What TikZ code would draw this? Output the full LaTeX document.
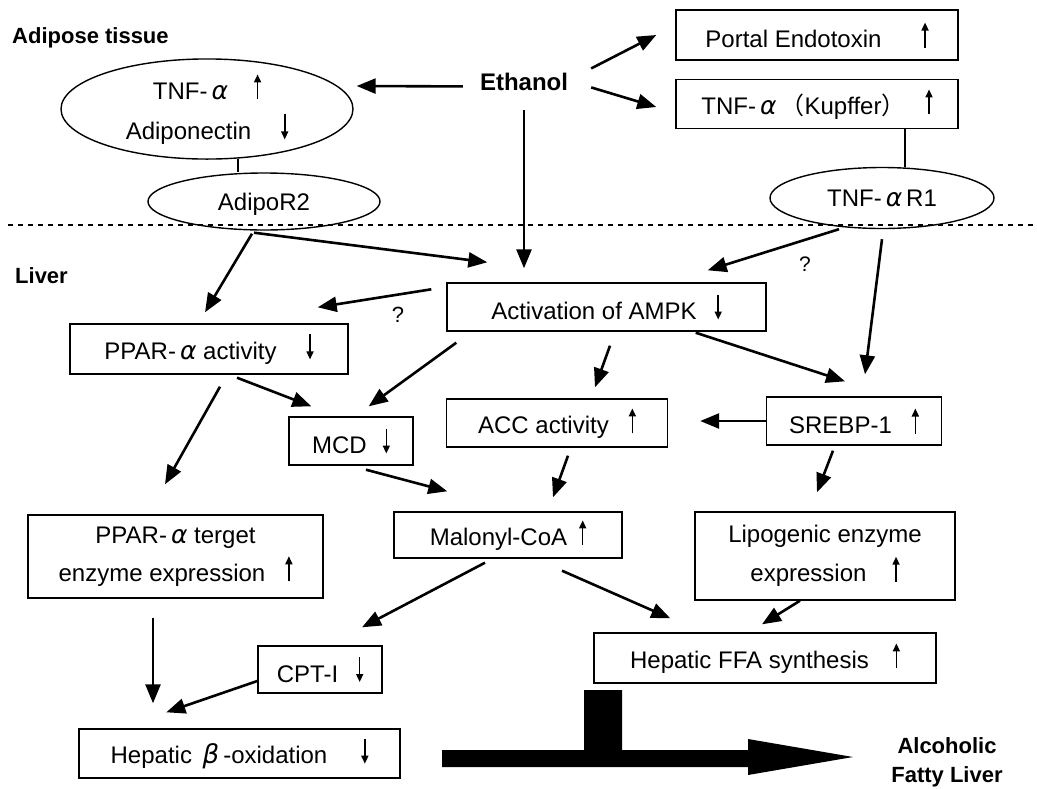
\documentclass[tikz,border=0pt]{standalone}
\usepackage{fontspec}
\setmainfont{Liberation Sans}
\newfontfamily\cjk{Noto Sans CJK JP}
\newfontfamily\grk{DejaVu Sans}
\usetikzlibrary{arrows.meta,shapes.geometric,calc}
\newcommand{\upar}{\tikz[baseline=0pt,x=1pt,y=1pt]\draw[line width=1.6pt,-{Triangle[length=8pt,width=7pt]}] (0,0) -- (0,25);}
\newcommand{\dnar}{\tikz[baseline=0pt,x=1pt,y=1pt]\draw[line width=1.6pt,-{Triangle[length=8pt,width=7pt]}] (0,25) -- (0,0);}
\newcommand{\alp}{{\grk\itshape\fontsize{25}{28}\selectfont α}}
\newcommand{\bet}{{\grk\itshape\fontsize{26}{28}\selectfont β}}
\begin{document}
\begin{tikzpicture}[x=1pt,y=-1pt,
  every node/.style={font=\fontsize{24}{28}\selectfont, inner sep=0pt},
  box/.style={draw, line width=1.4pt, rectangle, align=center},
  ell/.style={draw, line width=1.4pt, ellipse, align=center},
  arr/.style={line width=2.6pt, -{Triangle[length=19pt,width=15pt]}},
  lbl/.style={font=\fontsize{22}{29}\selectfont\bfseries},
  conn/.style={line width=1.6pt}]
\useasboundingbox (0,0) rectangle (1037,788);
\fill[white] (0,0) rectangle (1037,788);

% free labels
\node[lbl, anchor=base west] (adt) at (12,43) {Adipose tissue};
\node[lbl, anchor=base west] (liv) at (15,283) {Liver};
\node[font=\fontsize{24}{28}\selectfont\bfseries, anchor=base] (eth) at (524,90) {Ethanol};
\node[font=\fontsize{22}{24}\selectfont, anchor=base] (q1) at (398,322) {?};
\node[font=\fontsize{21}{24}\selectfont, anchor=base] (q2) at (805,271) {?};
\node[lbl, align=center] (afl) at (947,762) {Alcoholic\\Fatty Liver};

% dotted boundary
\draw[line width=2.4pt, dash pattern=on 5pt off 5pt] (8,225) -- (1037,225);

% ellipses
\node[ell, minimum width=292pt, minimum height=94pt, font=\fontsize{24}{40}\selectfont] (e1) at (207,109)
  {TNF-\,\alp\hspace{26pt}\upar\\Adiponectin\hspace{30pt}\dnar};
\node[ell, minimum width=232pt, minimum height=57pt, text depth=0pt] (adipo) at (264,201.5) {AdipoR2};
\node[ell, minimum width=224pt, minimum height=61pt] (r1) at (882,198) {TNF-\,\alp\,R1};

% boxes
\node[box, minimum width=282pt, minimum height=50pt] (portal) at (817,35) {Portal Endotoxin\hspace{40pt}\upar};
\node[box, minimum width=282pt, minimum height=49pt] (kup) at (817,104) {TNF-\,\alp\hspace{4pt}{\cjk （}Kupffer{\cjk ）}\hspace{20pt}\upar};
\node[box, minimum width=319pt, minimum height=48pt] (act) at (606.5,307) {Activation of AMPK\hspace{18pt}\dnar};
\node[box, minimum width=278pt, minimum height=50pt] (ppar) at (209,349) {PPAR-\,\alp\ activity\hspace{30pt}\dnar};
\node[box, minimum width=124pt, minimum height=48pt] (mcd) at (351,441) {MCD\hspace{16pt}\dnar};
\node[box, minimum width=221pt, minimum height=48pt] (acc) at (557,423) {ACC activity\hspace{20pt}\upar};
\node[box, minimum width=175pt, minimum height=48pt] (srebp) at (854,421) {SREBP-1\hspace{20pt}\upar};
\node[box, minimum width=295pt, minimum height=83pt, font=\fontsize{24}{38}\selectfont] (target) at (175.5,556.5)
  {PPAR-\,\alp\ terget\\enzyme expression\hspace{20pt}\upar};
\node[box, minimum width=228pt, minimum height=46pt] (mal) at (508,535) {Malonyl-CoA\hspace{12pt}\upar};
\node[box, minimum width=260pt, minimum height=88pt, font=\fontsize{24}{39}\selectfont] (lipo) at (825,556)
  {Lipogenic enzyme\\expression\hspace{26pt}\upar};
\node[box, minimum width=124pt, minimum height=47pt] (cpt) at (320,669.5) {CPT-I\hspace{18pt}\dnar};
\node[box, minimum width=342pt, minimum height=50pt] (ffa) at (765,658) {Hepatic FFA synthesis\hspace{24pt}\upar};
\node[box, minimum width=321pt, minimum height=49pt] (betaox) at (239.5,753.5) {Hepatic \,\bet\,-oxidation\hspace{34pt}\dnar};

% plain connecting lines
\draw[conn] (e1.-58.7) -- (e1.-58.7 |- adipo.north);
\coordinate (k1) at ($(kup.south)+(88,0)$);
\draw[conn] (k1) -- (k1 |- r1.north);

% arrows
\draw[arr] ($(eth.west)+(-17,5)$) -- ($(e1.east)+(3,-23)$);
\draw[arr] ($(eth.east)+(23,-13)$) -- ($(portal.west)+(-19,0)$);
\draw[arr] ($(eth.east)+(23,6)$) -- ($(kup.west)+(-19,3)$);
\draw[arr] ($(eth.south)+(0,20)$) -- ($(eth.south |- act.north)+(0,-14)$);
\draw[arr] ($(adipo.south)+(-10,2)$) -- ($(act.north west)+(41,-20)$);
\draw[arr] ($(adipo.south)+(-12,3)$) -- ($(ppar.north)+(-4,-11)$);
\draw[arr] ($(r1.south)+(-43,0)$) -- ($(act.north east)+(-59,-12)$);
\draw[arr] ($(r1.south)+(0,10)$) -- ($(srebp.north)+(11,-22)$);
\draw[arr] ($(act.north west)+(-15,7)$) -- ($(ppar.north east)+(-31,-16)$);
\draw[arr] ($(ppar.south)+(28,3)$) -- ($(mcd.north west)+(23,-10)$);
\draw[arr] ($(act.south west)+(10,11)$) -- ($(mcd.north east)+(-45,-10)$);
\draw[arr] ($(ppar.south)+(11,12)$) -- ($(target.north)+(-10.5,-30)$);
\draw[arr] ($(act.south)+(3.5,14)$) -- ($(acc.north)+(38,-11)$);
\draw[arr] ($(act.south east)+(-71,1)$) -- ($(srebp.north)+(-9,-15)$);
\draw[arr] (srebp.west) -- ($(srebp.west -| acc.east)+(32,0)$);
\draw[arr] ($(mcd.south)+(15,4)$) -- ($(mal.north west)+(54,-20)$);
\draw[arr] ($(acc.south)+(11,8)$) -- ($(mal.north)+(45,-14)$);
\draw[arr] ($(srebp.south)+(-21,5)$) -- ($(lipo.north)+(-8,-19)$);
\draw[arr] ($(mal.south)+(-23,4)$) -- ($(cpt.north)+(42,-18)$);
\draw[arr] ($(mal.south)+(54,12)$) -- ($(ffa.north west)+(77,-14)$);
\draw[arr] ($(lipo.south)+(-25,0)$) -- ($(ffa.north)+(-3,-8)$);
\draw[arr] ($(target.south)+(-22.5,19)$) -- ($(betaox.north)+(-86.5,-25)$);
\draw[arr] ($(cpt.west)+(0,11.5)$) -- ($(betaox.north west)+(88,-16)$);

% big arrow to Alcoholic Fatty Liver
\fill (442,750) -- (584,750) -- (584,690) -- (622,690) -- (622,750) -- (748,750) -- (748,739)
  -- (853,757) -- (748,775) -- (748,767) -- (442,767) -- cycle;
\end{tikzpicture}
\end{document}
